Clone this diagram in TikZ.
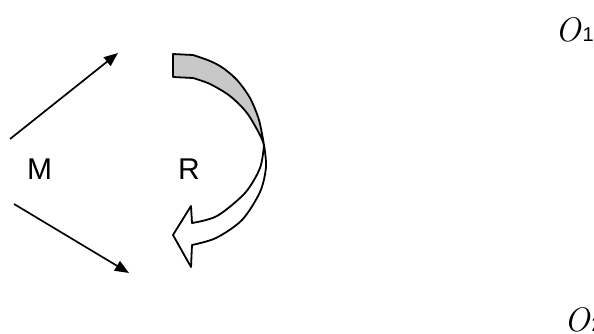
\documentclass[tikz,border=0pt]{standalone}
\usepackage{fontspec}
\setsansfont{Liberation Sans}
\usetikzlibrary{arrows.meta}
\tikzset{
  vec/.style={line width=1.7pt,-{Triangle[length=14pt,width=11pt]}},
  ribbon/.style={line width=1.8pt,line join=round},
  lbl/.style={font=\sffamily\fontsize{30}{30}\selectfont,inner sep=0pt},
  olbl/.style={inner sep=0pt,anchor=base west},
}
\begin{document}
\begin{tikzpicture}[x=1pt,y=-1pt]
\useasboundingbox (0,0) rectangle (594,333);
\clip (0,0) rectangle (594,333);
% M arrows
\coordinate (a1s) at (10,139);
\coordinate (a1e) at (118,53);
\coordinate (a2s) at (14,204);
\coordinate (a2e) at (129,273);
\draw[vec] (a1s) -- (a1e);
\draw[vec] (a2s) -- (a2e);
\node[lbl,anchor=base west] (M) at (27,179) {M};
\node[lbl,anchor=base west] (R) at (178,179) {R};
% twisted ribbon arrow, gray upper half
\draw[ribbon,fill={rgb,255:red,200;green,200;blue,200}]
  (173,54) -- plot[smooth] coordinates {(193,55) (210,61) (223,68) (237,80) (250,98) (259,120) (264,145)}
  -- plot[smooth] coordinates {(264,145) (260,135) (247,113) (230,96) (210,84) (193,78)}
  -- (173,77) -- cycle;
% white lower half with head
\draw[ribbon,fill=white]
  plot[smooth] coordinates {(264,145) (266,167) (260,192) (242,220) (216,238) (192,245)}
  -- (191,267) -- (173,235) -- (191,206) -- (192,223)
  -- plot[smooth] coordinates {(192,223) (217,216) (245,193) (260,168) (264,145)} -- cycle;
% O labels
\node[olbl] (O1) at (555,41) {{\rmfamily\itshape\fontsize{34}{34}\selectfont O}\hspace{2pt}{\sffamily\fontsize{20}{20}\selectfont 1}};
\node[olbl] (O2) at (564,331) {{\rmfamily\itshape\fontsize{34}{34}\selectfont O}\hspace{2pt}{\sffamily\fontsize{20}{20}\selectfont 2}};
\end{tikzpicture}
\end{document}
